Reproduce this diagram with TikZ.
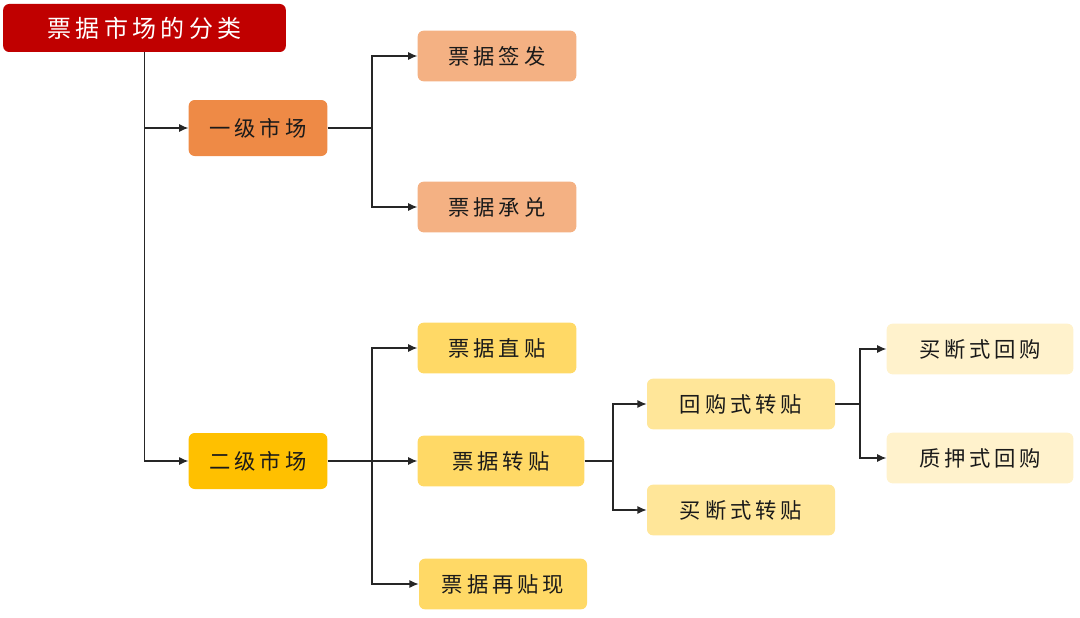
\documentclass[tikz,border=0pt]{standalone}
\usepackage{fontspec}
\newfontfamily\cjk[LetterSpace=18]{Noto Sans CJK SC}
\usepackage{tikz}
\usetikzlibrary{
  arrows.meta,
}

\definecolor{titlered}{HTML}{C00000}
\definecolor{level1}{HTML}{EE8A46}
\definecolor{level1light}{HTML}{F4B183}
\definecolor{level2}{HTML}{FFC000}
\definecolor{level2light}{HTML}{FFD966}
\definecolor{level3}{HTML}{FFE699}
\definecolor{level4}{HTML}{FFF2CC}
\definecolor{inktext}{HTML}{1A1A1A}

\begin{document}
\begin{tikzpicture}[
  x=0.75pt, y=-0.75pt,
  box/.style={
    rounded corners=4.5pt,
    text=inktext,
    font=\cjk\fontsize{16}{19}\selectfont,
    minimum height=38pt,
    inner sep=0pt,
  },
  title box/.style={
    box,
    fill=titlered,
    text=white,
    font=\cjk\fontsize{18}{21}\selectfont,
    minimum width=212pt,
    minimum height=36pt,
  },
  market box/.style={
    box,
    minimum width=104pt,
    minimum height=42pt,
  },
  link/.style={
    line width=0.9pt,
    draw=black!85,
  },
  arrow/.style={
    link,
    -{Latex[length=7pt,width=6pt]},
  },
  ]
  \useasboundingbox (0,0) rectangle (1080,617);

  % nodes
  \node [title box] (node-title) at (144.5,28) {票据市场的分类};
  \node [market box, fill=level1] (node-primary) at (258,128) {一级市场};
  \node [market box, fill=level2] (node-secondary) at (258,461) {二级市场};

  \node [box, fill=level1light, minimum width=119pt] (node-issue) at (497,56) {票据签发};
  \node [box, fill=level1light, minimum width=119pt] (node-accept) at (497,207) {票据承兑};

  \node [box, fill=level2light, minimum width=119pt] (node-direct) at (497,348) {票据直贴};
  \node [box, fill=level2light, minimum width=125pt] (node-transfer) at (501,461) {票据转贴};
  \node [box, fill=level2light, minimum width=126pt] (node-rediscount) at (503,584) {票据再贴现};

  \node [box, fill=level3, minimum width=141pt] (node-repo-transfer) at (741,404) {回购式转贴};
  \node [box, fill=level3, minimum width=141pt] (node-outright-transfer) at (741,510) {买断式转贴};

  \node [box, fill=level4, minimum width=140pt] (node-outright-repo) at (980,349) {买断式回购};
  \node [box, fill=level4, minimum width=140pt] (node-pledge-repo) at (980,458) {质押式回购};

  % junctions
  \coordinate (junction-primary) at (372,128);
  \coordinate (junction-secondary) at (372,461);
  \coordinate (junction-transfer) at (613,461);
  \coordinate (junction-repo) at (860,404);

  % connectors
  \draw [arrow] (node-title) |- (node-primary);
  \draw [arrow] (node-title) |- (node-secondary);

  \draw [link] (node-primary) -- (junction-primary);
  \draw [arrow] (junction-primary) |- (node-issue);
  \draw [arrow] (junction-primary) |- (node-accept);

  \draw [arrow] (node-secondary) -- (node-transfer);
  \draw [arrow] (junction-secondary) |- (node-direct);
  \draw [arrow] (junction-secondary) |- (node-rediscount);

  \draw [link] (node-transfer) -- (junction-transfer);
  \draw [arrow] (junction-transfer) |- (node-repo-transfer);
  \draw [arrow] (junction-transfer) |- (node-outright-transfer);

  \draw [link] (node-repo-transfer) -- (junction-repo);
  \draw [arrow] (junction-repo) |- (node-outright-repo);
  \draw [arrow] (junction-repo) |- (node-pledge-repo);
\end{tikzpicture}
\end{document}
